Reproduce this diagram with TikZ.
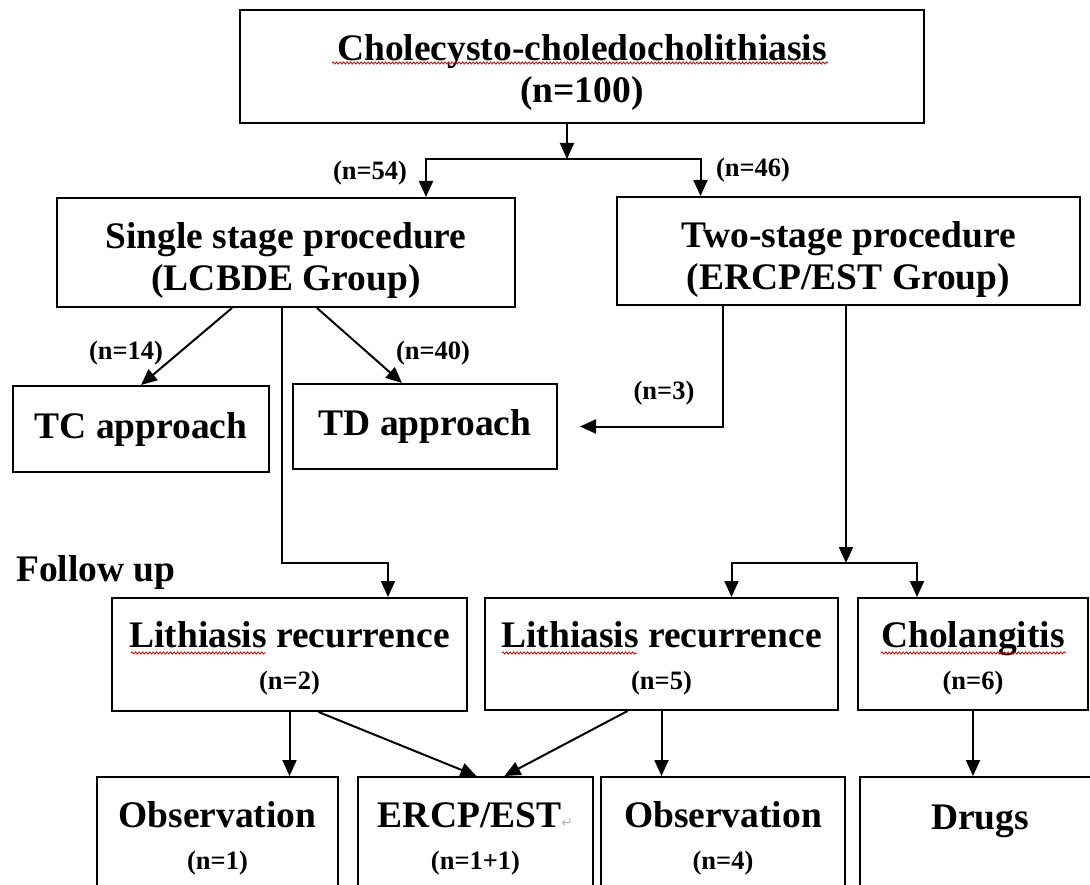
\documentclass[tikz,border=0pt]{standalone}
\usepackage{fontspec}
\setmainfont{Liberation Serif}
\newfontfamily\symfont{DejaVu Sans}
\usetikzlibrary{arrows.meta}
\usetikzlibrary{decorations.pathmorphing}
\newcommand{\upstrut}[1]{\rule{0pt}{#1}}

\begin{document}
\begin{tikzpicture}[x=1pt,y=-1pt,
 box/.style={draw, line width=2pt, inner sep=0pt, align=center, font=\bfseries\fontsize{37.5}{42}\selectfont},
 txt/.style={inner sep=0pt, font=\bfseries\fontsize{37.5}{42}\selectfont},
 lbl/.style={inner sep=0pt, font=\bfseries\fontsize{26.5}{30}\selectfont},
 arr/.style={line width=2pt, -{Triangle[length=16pt,width=14pt]}},
 wavy/.style={red!75!black, line width=0.8pt, decorate, decoration={snake, amplitude=1.1pt, segment length=3.5pt}}]
\useasboundingbox (0,0) rectangle (1090,885);
\clip (0,0) rectangle (1090,885);

\node[box, minimum width=684pt, minimum height=113pt] (top) at (582,66.5) {\upstrut{38pt}Cholecysto-choledocholithiasis\\(n=100)};
\node[box, minimum width=458pt, minimum height=109pt] (single) at (286,252.5) {\upstrut{42pt}Single stage procedure\\(LCBDE Group)};
\node[box, minimum width=463pt, minimum height=108pt] (two) at (848.5,251) {\upstrut{42pt}Two-stage procedure\\(ERCP/EST Group)};
\node[box, minimum width=256pt, minimum height=86pt] (tc) at (141,429) {TC approach};
\node[box, minimum width=264pt, minimum height=85pt] (td) at (425,426.5) {TD approach};
\node[txt, anchor=west] (follow) at (16,572) {Follow up};
\node[box, minimum width=355pt, minimum height=113pt] (lithA) at (289.5,654.5) {\upstrut{34pt}Lithiasis recurrence\\\fontsize{26.5}{42}\selectfont(n=2)};
\node[box, minimum width=353pt, minimum height=112pt] (lithB) at (661.5,654) {\upstrut{34pt}Lithiasis recurrence\\\fontsize{26.5}{42}\selectfont(n=5)};
\node[box, minimum width=230pt, minimum height=112pt] (chol) at (973,654) {\upstrut{34pt}Cholangitis\\\fontsize{26.5}{42}\selectfont(n=6)};
\node[box, minimum width=241pt, minimum height=123pt] (obsA) at (217.5,838.5) {Observation\\\fontsize{26.5}{42}\selectfont(n=1)};
\node[box, minimum width=235pt, minimum height=123pt] (ercp) at (475.5,838.5) {ERCP/EST{\symfont\mdseries\fontsize{14}{14}\selectfont\color{gray!60}↵}\\\fontsize{26.5}{42}\selectfont(n=1+1)};
\node[box, minimum width=244pt, minimum height=123pt] (obsB) at (723,838.5) {Observation\\\fontsize{26.5}{42}\selectfont(n=4)};
\node[box, minimum width=240pt, minimum height=123pt] (drugs) at (980,838.5) {Drugs\\\fontsize{26.5}{42}\selectfont\mbox{}};

\node[lbl] (n54) at (370,173) {(n=54)};
\node[lbl] (n46) at (753,170) {(n=46)};
\node[lbl] (n14) at (126,353) {(n=14)};
\node[lbl] (n40) at (433,353) {(n=40)};
\node[lbl] (n3) at (664,393) {(n=3)};

\coordinate (jA) at (567,159);
\coordinate (jB) at (846,563);
\coordinate (kA) at (388,563);

\draw[arr] ([xshift=-15pt]top.south) -- (jA);
\draw[arr] (jA) -| ([xshift=140pt]single.north);
\draw[arr] (jA) -| ([xshift=-148pt]two.north);
\draw[arr] ([xshift=-54pt]single.south) -- (tc.north);
\draw[arr] ([xshift=31pt]single.south) -- ([xshift=-23pt]td.north);
\draw[arr] ([xshift=-4pt]single.south) |- (kA) -- (kA |- lithA.north);
\draw[arr] ([xshift=-126pt]two.south) |- ([xshift=22pt]td.east);
\draw[arr] (two.south -| jB) -- (jB);
\draw[arr] (jB) -| ([xshift=70pt]lithB.north);
\draw[arr] (jB) -| ([xshift=-56pt]chol.north);
\draw[arr] (lithA.south) -- (lithA.south |- obsA.north);
\draw[arr] ([xshift=29pt]lithA.south) -- ([xshift=1pt]ercp.north);
\draw[arr] ([xshift=-34pt]lithB.south) -- ([xshift=29pt]ercp.north);
\draw[arr] (lithB.south) -- (lithB.south |- obsB.north);
\draw[arr] (chol.south) -- (chol.south |- drugs.north);

\draw[wavy] (332,63) -- (828,63);
\draw[wavy] (131,653) -- (266,653);
\draw[wavy] (502,653) -- (637,653);
\draw[wavy] (881,653) -- (1066,653);
\end{tikzpicture}
\end{document}
